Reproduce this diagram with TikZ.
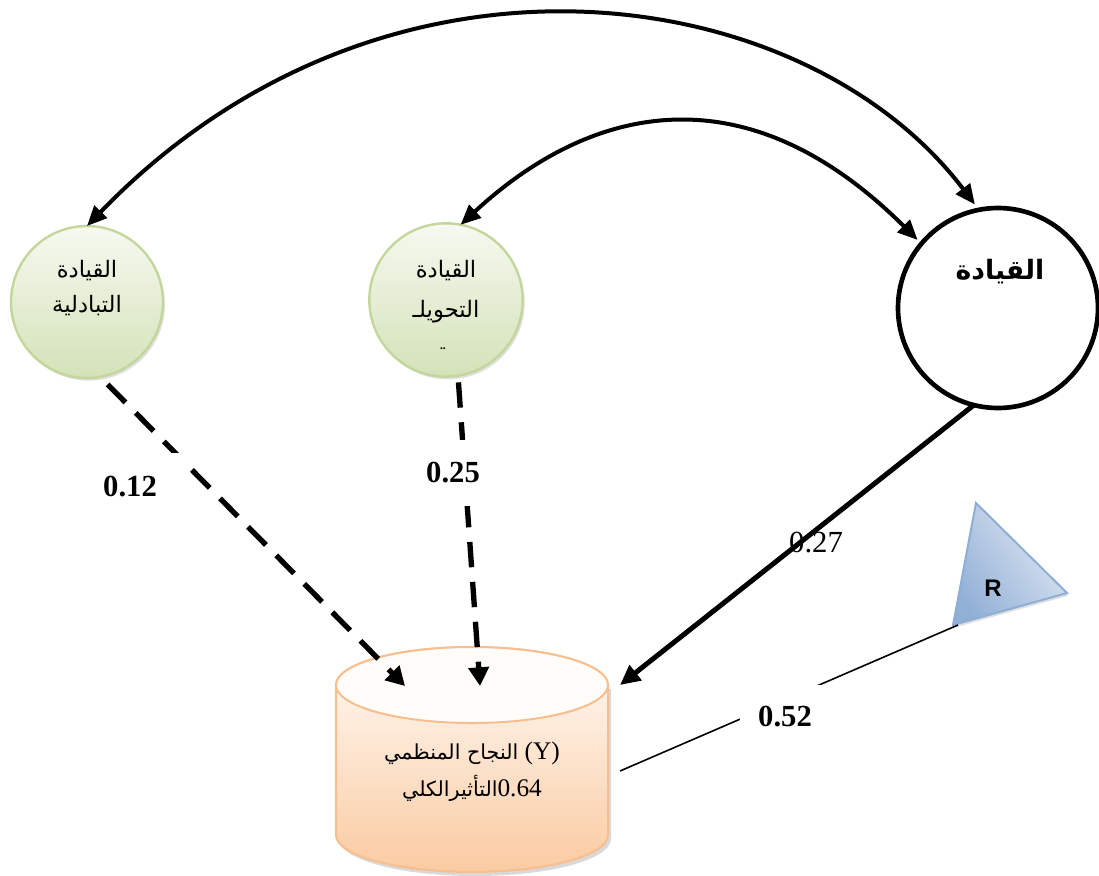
\documentclass[tikz,border=0pt]{standalone}
\usepackage{fontspec}
\setmainfont{Liberation Serif}
\newfontfamily\arfont[Script=Arabic]{DejaVu Sans}
\newfontfamily\lsfont{Liberation Sans}
\TeXXeTstate=1
\usetikzlibrary{arrows.meta,calc,shadows}
\definecolor{grnedge}{RGB}{195,214,155}
\definecolor{grntop}{RGB}{246,249,240}
\definecolor{grnbot}{RGB}{212,226,184}
\definecolor{cyledge}{RGB}{249,190,142}
\definecolor{cyltop}{RGB}{255,251,247}
\definecolor{cylbot}{RGB}{250,203,162}
\definecolor{cylcap}{RGB}{255,252,250}
\definecolor{triedge}{RGB}{142,174,214}
\definecolor{trilight}{RGB}{224,232,243}
\definecolor{tridark}{RGB}{146,176,214}
\begin{document}
\begin{tikzpicture}[x=0.75pt,y=-0.75pt,
  greencirc/.style={circle, draw=grnedge, line width=1.8pt, top color=grntop, bottom color=grnbot,
     inner sep=0pt, outer sep=0pt, drop shadow={opacity=0.25, shadow xshift=1.5pt, shadow yshift=-2pt}},
  bigcirc/.style={circle, draw=black, line width=3.5pt, fill=white, minimum size=150pt, inner sep=0pt, outer sep=0pt},
  circtext/.style={font=\arfont\fontsize{17}{19}\selectfont, inner sep=0pt},
  curvearrow/.style={line width=3pt, {Triangle[length=15pt,width=13pt]}-{Triangle[length=15pt,width=13pt]}},
  dasharrow/.style={line width=4pt, dash pattern=on 19pt off 11pt, -{Triangle[length=14pt,width=15pt]}},
  solidarrow/.style={line width=3.75pt, -{Triangle[length=15pt,width=14pt]}},
  boldlbl/.style={font=\fontsize{23}{26}\selectfont\bfseries, fill=white, inner sep=0pt},
]
\useasboundingbox (0,0) rectangle (1099,875);

% circles
\node[greencirc, minimum size=114pt] (L) at (87,302) {};
\node[greencirc, minimum size=115pt] (M) at (446,300) {};
\node[bigcirc] (C) at (998,308) {};

\node[circtext] (Lt1) at (87,271) {\beginR القيادة\endR};
\node[circtext] (Lt2) at (87,306) {\beginR التبادلية\endR};
\node[circtext] (Mt1) at (446,271) {\beginR القيادة\endR};
\node[circtext] (Mt2) at (446,312) {\beginR التحويلـ\endR};
\begin{scope}
  \clip (400,333) rectangle (500,349);
  \node[circtext] (Mt3) at (446,355) {\beginR ية\endR};
\end{scope}
\node[font=\arfont\bfseries\fontsize{20}{22}\selectfont, inner sep=0pt] (Ct) at (1000,272) {\beginR القيادة\endR};

% cylinder
\fill[gray, opacity=0.3] (339,689) -- (339,839) arc[start angle=180, end angle=0, x radius=136, y radius=37] -- (611,689) -- cycle;
\path[top color=cyltop, bottom color=cylbot, draw=cyledge, line width=1.5pt]
  (336,685) -- (336,835) arc[start angle=180, end angle=0, x radius=136, y radius=37]
  -- (608,685) arc[start angle=0, end angle=-180, x radius=136, y radius=38] -- cycle;
\path[fill=cylcap, draw=cyledge, line width=1.5pt] (472,685) ellipse[x radius=136, y radius=38];
\node[align=center, font=\fontsize{19}{28}\selectfont, inner sep=0pt] (Y) at (472,772)
  {{\arfont\fontsize{15.5}{28}\selectfont\beginR النجاح المنظمي\endR}\ (Y)\\
   {\arfont\fontsize{15.5}{28}\selectfont\beginR التأثيرالكلي\endR}0.64};
\coordinate (Ya) at (405,686);
\coordinate (Yb) at (480,686);
\coordinate (Yc) at (620,685);
\coordinate (Yd) at (620,771);

% triangle R
\path[top color=trilight, bottom color=tridark, shading angle=-55, draw=triedge, line width=1.5pt,
      drop shadow={opacity=0.25, shadow xshift=1pt, shadow yshift=-2pt}]
  (976,503) -- (1067,593) -- (953,625) -- cycle;
\node[font=\lsfont\bfseries\fontsize{18}{20}\selectfont, inner sep=0pt] (R) at (993,588) {R};
\coordinate (Tv) at (958,625);

% curved double arrows
\draw[curvearrow, shorten >=5pt] (L.north) .. controls (386,-83) and (805,-20) .. (C.101);
\draw[curvearrow, shorten >=4pt] (M.79) .. controls (590,105) and (745,68) .. (C.140);

% label 0.27 under the line
\node[font=\fontsize{23}{26}\selectfont, inner sep=0pt] (l27) at (816,543) {0.27};

% straight connectors
\draw[dasharrow, shorten <=8pt] (L.-80) -- (Ya);
\draw[dasharrow, shorten <=5pt] (M.-81) -- (Yb);
\draw[solidarrow] (C.-104) -- (Yc);
\draw[line width=1.2pt] (Tv) -- (Yd);

% labels
\node[boldlbl, minimum width=90pt, minimum height=51pt] (l12) at (130,487) {0.12};
\node[boldlbl, minimum width=44pt, minimum height=50pt] (l25) at (453,473) {0.25};
\node[boldlbl, minimum width=67pt, minimum height=48pt] (l52) at (785,717) {0.52};
\end{tikzpicture}
\end{document}
